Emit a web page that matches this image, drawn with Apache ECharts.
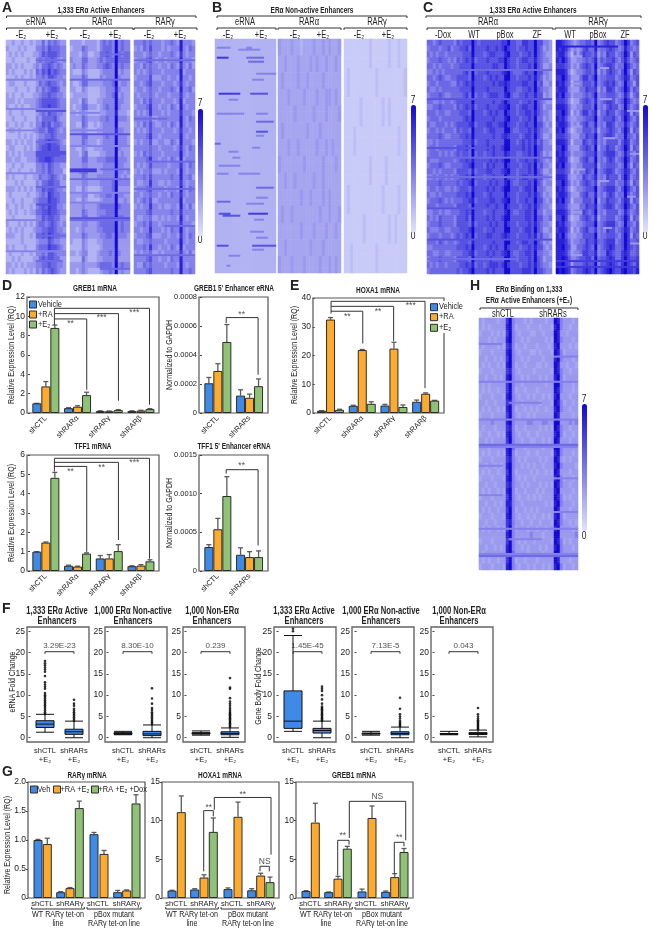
<!DOCTYPE html>
<html><head><meta charset="utf-8">
<style>html,body{margin:0;padding:0;background:#fff}#c{width:652px;height:930px}</style>
<script src="https://cdn.jsdelivr.net/npm/echarts@6/dist/echarts.min.js"></script></head>
<body><div id="c"></div>
<script>
// ---------- heatmap values: one digit per cell, 0 (pale) .. 9 (darkest), x=2.5, y=1.5
const A_eRNA=[
"22322322323353545433","32223232224454655544","23232322233465666544","22322223224545565434","33232322234355654543",
"32322232325465756544","22232322324454665443","23322232223545655434","22232223224354566533","32322322233455655443",
"33323233334566666544","32232322334566766544","23222322223454655443","22322232224355556433","32232322324465645543",
"23323222234554665434","22223232323445565444","33232323324556766543","23322232324566766644","32323233335677776655",
"33233223335667765555","22322322224454654433","23223222324454654442","32322232233544565434","22232322224355665533",
"33323232324465665443","23222223223454765544","22322322234555766544","32232322324565766443","23232232335566766544",
"22322222224465665533","32223232324554565434","23232322234455665443","33322322325565765544","22222322223444654433",
"32322232224555766543","23222322324454665444","22323222233565665533","33232323334455655443","32322232324354565433"];
const A_RARa=[
"33332333324545494544","23335433324555494544","33324422335565495455","43335533345455595555","34335433344565494544",
"32224322223444493433","33335422224344494333","32235533333444593443","33224322223344484333","23333322223344593433",
"33325422233444494433","32335533323454494333","33234322223344483332","33335433334454494443","33225422323444493333",
"33334322233444484433","33335533333454494443","33335433323444494443","33224322333444494333","33324522223344493433",
"33335533344455594443","33334433333444494433","33345533333444494434","33335433344444494343","33334433334444594444",
"33224322223444593333","33334422334455494433","33224322223444493343","33334333345555595444","33335433344455594444",
"33335533345555595544","33334433345555594544","33234333344555594544","33335433334455494443","32224322233444493333",
"22224322223444493333","33234422234445494333","22225322233444493333","33334333345555494544","33234322223445493433"];
const A_RARg=[
"44454544434454384443","34354644434344484354","44434544344454374344","34445643443444484443","44354544344354374353",
"43434544434444483444","34444633344344384434","44345644434443474344","34434544344454384453","43444543444344474344",
"44354644434443483444","34445744344354384344","43434744434344474443","44444533444444484354","34354643344354384344",
"43434644434443474434","44445744344444484344","34344633443354384443","44444544344443474354","34354544434444484344",
"44445744344354383444","43434644444344474354","34344533343444384344","44454644444454484453","43344744334344474344",
"34445644443444384354","44344544344354474344","43454633444444483444","34344744343344384353","44445644444454474444",
"43344533434344384344","34454644344444474443","44344744434354484344","34445633344344374354","43344544443444484344",
"44454744344354383444","34344533434444474353","44445644344354484444","43354544443444384344","44445644444454484454"];
const B_eRNA=Array(39).fill("2222222222222222222222222222222");
const B_RARa=[
"3xxx3xx2xxx3xx3x3xx3","xx3xxx3xxx3x3xx3xx3x","x3xxxx3xx3xxxx3xxxxx","xxx3xxxx3xxx3xx33x3x","xxxxx3xxxxx3xxx3xxx3",
"x3xxxxxxx3xxx3xxxxxx","xxx3xx3xxxxx3xx3x3xx","3xxxxxxx3xxxxx3xxx3x","xx3xx3xxxxx3xx3xxxxx","xxxxxxx3xx3xxx3x3xxx",
"x3xx3xxxxxxxx3xx3xx3","xxxxxxx3xxx3xxx3xx3x","xx3xxxxxxx3xxx3xxxxx","3xxx3xxx3xxxx3xx3x3x"];
const B_RARg=[
"11111111y11111y11y11","1y11111111y11111111y","11111y111111y1y11111","111y1111111111111y11",
"11111111y1111y111111","1y1111111111y1111y11","111111y1111111y1y111","11y1111111y111111111"];
const C_RARa=[
"554565555465666965666666677966557766966443","455545564556675966667667679766566766965343","545455455555666966656776668966656676965433",
"455565545465676856667666779766567766865443","554545554556666966666677669766566676965334","445454555555675956667666678965556766966443",
"554565445566665966656767669966566676865343","455455554465676866666676778766667766956334","544545555556666966667666669766556676965443",
"455565445555675956656777668965566766866343","554454554566666966666676679766656676965433","445565555465676856667666778966567766965344",
"555455445556665966656767669766566776865443","455545555555676966666676668966656676955343","544555454566667856667766779766566766966434",
"455454555465665966656776669965566676865443","555565445556676966666676678766656776965334","445455555555666856667666669966567676856443",
"455455555466675966667676679966667676966444","455545454565665956656676668766556676965343",
"544455555456676866666767679966566766865434","455565445555667966657676669766656676956443","554545555466665856667766678966566676965334",
"445455454556676966656676669766567766866443","555565555565667956666767668965566676965344","455455445456665866667676679966656776955433",
"544545555566676966656766669766566676865343","455565454555667856666776678966566766966434","555455555466665966667667669766656676865443",
"445545445556676966656676668965566776955344","545465555466675966667676679966666776966445","455565555466665856666767669766566676865443",
"544455445556667966656676669966656776965334","455545554565676956667766678766566676856443","555465455456665866666676669966567766965343",
"445555555566676966656767669766656676866434","554455445555667856667676678965566776955443","455565555466665966666766669966566676965344",
"545455455556676856656777679766656676865443","455555555565667966667676669966667776966544"];
const C_RARg=[
"8876543455665945676645697456","8787534346755845567654586545","7886425357665735476645697365","8797533445656846566754686456",
"7776534356765945677645597545","8887423445665835467654696365","7797533357756945566645687456","8786524446665845676754596536",
"7887433355766735477645697465","8796534445656945566654586356","7776423356765845677645697545","8887533446665945467664596456",
"7797524357756835576645687365","8786433445666945666754697546","7887534356755845477645586456","8796423446665735567654697365",
"7776533355766945677645596546","8887524447656845466664687456","7797433356765935576645697365","8786534445666845677754586546",
"7887423356755945467645697456","8796533446666835566654596365","7776524355765945677645687546","8887433447656845476664697456",
"7797534356765735566645586365","8786423445666945677754697546","7887533356755845467645596456","8796524446665935576654687365",
"7776433355766845677645697546","8887534447656945466664586456","7797423356765835566645697365","8786533445666945677754596546",
"7887524356755745476645687456","8796433446666945566654697365","8887534455766855677745697556","8897633556765945678755697656",
"8887534457766845587655787556","8898644566775956678755797667","8897635556766946678765797657","9898745667876956789766897768"];
const H_Bind=[
"3x3333x33794333x3x3333x3398433323","3x3x33333894x33323332333x89433x33","x33323x3x79432333x233x33398332333","333x3x333894332323333323x98433323",
"323333232784233233323332389333232","233323333894323332232333298423333","332332323794332323333233389433323","323233232894233233322323398332332",
"233323333784323333233333298433233","332332323894332323332323389423333","323233333794332333333323399433323","323233233794233233323333398433323",
"233323332894323323233232389333233","332332333784332333332333298423323","323233232894233232323323389433233","233323333794323323233333398333323",
"333343333894333344333443399333434","323332333784233233332323298433233","233233232894323323323333389423323","332323333794332332233232398333233",
"333233333895333233333233399433333","323233232894233323323333289433323","233323333784323233332323398323233","332332323894332323233233389433332",
"323233233794233332323323298333233","233323332894323233233333389423323","332332333784332323332323298433233","323233232894233233323233389333323",
"233323333794323323232333398423233","332332323884332333333323289433323","323233233794233232323333398333233","233323332894323323233232389423333",
"332332333784332332332333298433232","323233232794233323323323389333323","333333333894333334333233399333334","233323333794323233233333298423233",
"332332323894332323332323389433323","323333333895333323333233399433333","323233233794233233323333398333233","233323332894323323233232389423323"].map(r=>r.replace(/2/g,'x'));
// thin streaks in a panel: [fine row, first column, last column, digit]
const A_eRNA_s=[[20,0,19,4],[35,0,19,4],[36,10,19,6],[10,10,19,5],[46,0,9,4],[52,10,16,5],[57,10,19,6],[58,10,19,6],[59,10,17,6],[68,0,9,4],[75,10,19,5],[84,10,16,6],[92,0,9,4],[100,10,19,5],[108,0,19,4],[113,10,18,5]];
const A_RARa_s=[[48,0,19,6],[66,0,8,7],[67,0,8,7],[66,10,19,5],[71,0,19,5],[78,0,19,4],[91,0,19,6],[92,0,19,5],[20,0,19,5],[37,0,9,4],[46,0,12,4],[54,0,19,4],[83,0,14,4],[7,10,19,5],[117,10,19,5]];
const A_RARg_s=[[10,0,19,5],[40,0,10,5],[62,5,19,5],[76,0,19,5],[95,10,19,5],[110,0,19,5]];
const B_eRNA_s=[[4,1,7,4],[4,16,18,4],[5,12,22,4],[9,1,6,7],[9,16,24,5],[11,17,24,5],[17,21,30,4],[20,19,24,4],[27,2,12,7],[27,18,26,6],[30,7,11,4],[37,1,14,4],[37,21,26,4],[41,21,29,5],[46,21,26,6],[48,21,24,4],[52,0,2,5],[54,19,22,4],[56,7,11,4],[59,9,12,4],[63,2,12,4],[67,1,6,4],[67,12,22,4],[74,21,29,5],[79,21,26,4],[81,1,7,5],[82,16,24,4],[87,2,7,6],[87,17,26,7],[88,4,12,6],[90,20,24,4],[96,18,24,4],[99,21,26,4],[103,1,6,6],[103,19,30,6],[105,19,24,4],[108,7,12,4],[113,6,7,4]];
const C_RARa_s=[[30,0,41,6],[55,0,20,6],[70,0,41,5],[86,0,20,6],[102,0,41,6],[60,0,41,5],[15,10,41,5],[112,0,30,5]];
const C_RARg_s=[[3,0,20,8],[8,6,8,3],[14,15,17,3],[22,5,7,3],[30,15,18,3],[36,24,27,3],[44,6,8,3],[50,16,19,3],[58,25,27,3],[66,6,9,3],[72,15,17,3],[80,24,26,3],[88,6,8,3],[96,16,18,3],[104,25,27,3],[110,6,8,3],[113,0,27,7],[116,0,27,7]];
const H_Bind_s=[[30,0,32,4],[48,0,32,4],[60,0,32,5],[61,0,32,4],[100,0,32,4],[112,0,32,4],[113,0,32,5],[12,0,7,4],[18,25,32,4],[40,10,20,4],[70,0,7,4],[76,25,32,4],[84,0,7,4],[92,25,32,4],[105,10,20,4]];

// ---------- bar values (Vehicle / +RA / +E2) and errors
const D_cats=["shCTL","shRARα","shRARγ","shRARβ"];
const D_eCats=["shCTL","shRARs"];
const D1_veh=[1,.5,.2,.2],D1_ra=[2.75,.65,.18,.25],D1_e2=[8.8,1.85,.3,.4];
const D1_vehE=[0,.05,.03,.03],D1_raE=[.5,.1,.03,.03],D1_e2E=[.3,.3,.05,.05];
const D2_veh=[.000205,.00012],D2_ra=[.00029,.000105],D2_e2=[.00049,.000185];
const D2_vehE=[.00004,.00004],D2_raE=[.00005,.000025],D2_e2E=[.00012,.00005];
const D3_veh=[1,.27,.65,.25],D3_ra=[1.47,.23,.65,.28],D3_e2=[4.82,.9,1.03,.5];
const D3_vehE=[0,.03,.15,.02],D3_raE=[.03,.02,.2,.05],D3_e2E=[.28,.04,.33,.08];
const D4_veh=[.00031,.00021],D4_ra=[.00054,.00018],D4_e2=[.00097,.00018];
const D4_vehE=[.00003,.00009],D4_raE=[.00014,.00007],D4_e2E=[.00025,.00008];
const E_veh=[.8,2.5,2.6,3.9],E_ra=[32.5,21.9,22.4,6.7],E_e2=[1.1,3.2,2.1,4.3];
const E_vehE=[0,.2,.4,.6],E_raE=[.7,.2,2.2,.3],E_e2E=[.2,.7,.7,.1];
// brackets and significance labels, in group units / axis values
const D1_br=[[[.77,9.1],[.77,10.83],[3.77,10.83],[3.77,.86]],[[.77,10.28],[2.79,10.28],[2.79,1.27]],[[.77,9.73],[1.79,9.73],[1.79,2.4]]];
const D1_st=[[1.28,9.2,"**"],[2.26,9.87,"***"],[3.29,10.4,"***"]];
const D2_br=[[[.763,.00062],[.763,.000658],[1.77,.000658],[1.77,.000264]]];
const D2_st=[[1.25,.00068,"**"]];
const D3_br=[[[.77,5.15],[.77,5.83],[3.77,5.83],[3.77,.64]],[[.77,5.62],[2.79,5.62],[2.79,1.6]],[[.77,5.41],[1.79,5.41],[1.79,.99]]];
const D3_st=[[1.28,5.15,"**"],[2.26,5.37,"**"],[3.29,5.62,"***"]];
const D4_br=[[[.763,.00126],[.763,.00131],[1.77,.00131],[1.77,.00033]]];
const D4_st=[[1.25,.00136,"**"]];
const E_br=[[[.516,34.6],[.516,38.85],[3.48,38.85],[3.48,8.65]],[[.516,37.1],[2.49,37.1],[2.49,25.1]],[[.516,35.4],[1.516,35.4],[1.516,24.2]]];
const E_st=[[1.03,33.5,"**"],[2,35.4,"**"],[3.03,37.2,"***"]];

// ---------- box plots: min, Q1, median, Q3, max for shCTL and shRARs, then outliers
const F_cats=["shCTL\n+E₂","shRARs\n+E₂"];
const F1_box=[[1.3,2.4,3.2,4,5.5],[0,.8,1.4,2,3.9]];
const F1_outA=[5.6,6,6.4,6.8,7.2,7.6,8,8.4,8.8,9.2,9.6,10,10.5,11.5,12,12.5,13,14.5,15.5,16,16.5,17,17.5,18];
const F1_outB=[4,4.4,4.8,5.2,5.6,6,6.4,6.8,7.5,8,8.9];
const F2_box=[[.7,.8,1,1.2,1.5],[0,.5,.9,1.5,3]];
const F2_outA=[],F2_outB=[3.2,3.6,4,4.4,4.8,5.2,5.6,6,6.5,7,8,9.2,11.6];
const F3_box=[[.6,.85,1,1.2,1.6],[.1,.7,1,1.4,2.3]];
const F3_outA=[],F3_outB=[2.5,2.8,3.1,3.4,3.7,4,4.3,4.6,4.9,5.2,5.5,5.8,6.1,6.5,7,7.5,8,8.5,9.3,11.5,11.8,14];
const F4_box=[[1.5,2.2,3.9,11,24],[0,1.1,1.7,2.2,3.9]];
const F4_outA=[25,25.6],F4_outB=[4,4.3,4.6,4.9,5.2,5.5,5.8,6.1,6.4,6.7,7,7.3,8,9,10,11,11.5,12];
const F5_box=[[.6,.85,1,1.1,1.5],[0,.7,1,1.4,2.5]];
const F5_outA=[],F5_outB=[2.7,3,3.3,3.6,4,4.5,5,5.5,6.8,9.4];
const F6_box=[[.7,.8,.9,1,1.5],[.2,.75,1,1.2,1.8]];
const F6_outA=[],F6_outB=[2,2.3,2.6,2.9,3.2,3.5,3.8,4.1,4.5,5,5.5,7];
const F_p=["3.29E-23","8.30E-10","0.239","1.45E-45","7.13E-5","0.043"];
const F_titles=["1,333 ERα Active\nEnhancers","1,000 ERα Non-active\nEnhancers","1,000 Non-ERα\nEnhancers","1,333 ERα Active\nEnhancers","1,000 ERα Non-active\nEnhancers","1,000 Non-ERα\nEnhancers"];

// ---------- panel G
const G_labels=["shCTL","shRARγ","shCTL","shRARγ"];
const G_labelPos=[14.3,42,70,98.5];
const G_vehPos=[10,32.7,66,89.7],G_raPos=[19.3,42,76,98.7],G_doxPos=[51.3,108];
const G1_veh=[1,.1,1.1,.1],G1_ra=[.93,.17,.76,.13],G1_dox=[1.55,1.63];
const G1_vehE=[.01,.01,.03,.03],G1_raE=[.1,.01,.06,.01],G1_doxE=[.12,.15];
const G2_veh=[.95,1.1,1.15,1],G2_ra=[11.1,2.65,10.5,2.9],G2_dox=[8.55,2.05];
const G2_vehE=[.05,.1,.15,.2],G2_raE=[2.1,.35,1.9,.3],G2_doxE=[1.8,.65];
const G3_veh=[.9,.75,.85,.8],G3_ra=[9.75,2.5,10.35,2.7],G3_dox=[6.38,5.95];
const G3_vehE=[.05,.03,.3,.1],G3_raE=[2.5,.3,1.55,.45],G3_doxE=[.3,.45];
const G2_br=[[[41.7,3.45],[41.7,11.3],[51.3,11.3],[51.3,10.56]],[[52.3,11.4],[52.3,13],[109,13],[109,5.6]],[[98,3.45],[98,4.1],[107.3,4.1],[107.3,3.45]]];
const G2_st=[[46.7,11.7,"**"],[80.7,13.35,"**"],[102.7,4.75,"NS"]];
const G3_br=[[[53.3,7.76],[53.3,12.5],[109.7,12.5],[109.7,7.46]],[[41.7,2.93],[41.7,7.46],[53,7.46],[53,6.9]],[[98.3,3.2],[98.3,7.2],[108,7.2],[108,6.68]]];
const G3_st=[[46.7,8,"**"],[81.3,13.15,"NS"],[103.3,7.76,"**"]];

// ---------- build
const SANS='"Liberation Sans",sans-serif';
const INK='#222',FRAME='#555';
const BLUE='#3f8ae6',ORANGE='#fdab2f',GREEN='#8fc274';
const grid=[],xAxis=[],yAxis=[],series=[],gfx=[],visualMap=[],legend=[];
const halves={x:2.5,y:1.5};
function cell(ch){return (ch in halves?halves[ch]:+ch)*7/9;}
function addGrid(l,t,r,b){grid.push({left:l,top:t,width:r-l,height:b-t,containLabel:false});return grid.length-1;}
function heat(rows,streaks,l,t,r,b,group){
  const g=addGrid(l,t,r,b),fine=[],data=[];
  rows.forEach(row=>{for(let k=0;k<3;k++)fine.push(Array.from(row,cell));});
  streaks.forEach(s=>{for(let i=s[1];i<=s[2];i++)fine[s[0]][i]=s[3]*7/9;});
  fine.forEach((row,j)=>row.forEach((v,i)=>data.push([i,j,v])));
  xAxis.push({gridIndex:g,type:'category',show:false,data:fine[0].map((_,i)=>i)});
  yAxis.push({gridIndex:g,type:'category',show:false,inverse:true,data:fine.map((_,j)=>j)});
  group.push(series.length);
  series.push({type:'heatmap',xAxisIndex:xAxis.length-1,yAxisIndex:yAxis.length-1,data,animation:false,silent:true,progressive:0});
}
function colorbar(ids,l,t){visualMap.push({type:'continuous',min:0,max:7,seriesIndex:ids,left:l,top:t,itemWidth:5,itemHeight:127,padding:0,calculable:false,
  inRange:{color:['#dfe2fb','#1208d4']},textStyle:{fontSize:0},showLabel:false});}
function T(x,y,text,o={}){gfx.push({type:'text',x,y,rotation:o.rot||0,scaleX:o.sx||.75,silent:true,style:{text,x:0,y:0,align:o.align||'center',verticalAlign:'middle',fill:o.fill||INK,
  font:`${o.weight||'normal'} ${o.size||10}px ${SANS}`}});}
function L(pts,o={}){gfx.push({type:'polyline',silent:true,shape:{points:pts},style:{stroke:o.c||'#333',lineWidth:o.w||1,fill:null}});}
function BR(a,b,y,d=2){L([[a,y+d],[a,y],[b,y],[b,y+d]]);}
function frame(l,t,r,b,c=FRAME,w=1.2){gfx.push({type:'rect',silent:true,shape:{x:l,y:t,width:r-l,height:b-t},style:{fill:null,stroke:c,lineWidth:w}});}
function YN(x,y,text){T(x,y,text,{rot:Math.PI/2,size:9,sx:.78});}
function renderErr(p,api){
  const a=api.coord([api.value(0),api.value(1)]),b=api.coord([api.value(0),api.value(2)]);
  const s={stroke:'#5a5a5a',lineWidth:1.3};
  return {type:'group',children:[{type:'line',shape:{x1:a[0],y1:a[1],x2:b[0],y2:b[1]},style:s},
    {type:'line',shape:{x1:b[0]-2.5,y1:b[1],x2:b[0]+2.5,y2:b[1]},style:s}]};
}
function errs(xi,yi,pos,v,e){series.push({type:'custom',xAxisIndex:xi,yAxisIndex:yi,renderItem:renderErr,silent:true,animation:false,z:1,clip:false,
  data:v.map((d,i)=>[pos[i],d,d+e[i]]),encode:{x:0,y:[1,2]}});}
function brackets(xi,yi,list,color='#333'){list.forEach(d=>series.push({type:'line',xAxisIndex:xi,yAxisIndex:yi,data:d,symbol:'none',silent:true,animation:false,z:4,
  lineStyle:{color,width:1}}));}
function notes(xi,yi,list,size=8.5){series.push({type:'scatter',xAxisIndex:xi,yAxisIndex:yi,data:list,symbolSize:1,itemStyle:{color:'transparent'},silent:true,animation:false,z:5,
  label:{show:true,position:'inside',formatter:p=>p.value[2],color:INK,fontSize:size,fontFamily:SANS}});}
function yAx(g,max,interval,o){return {gridIndex:g,type:'value',min:0,max,interval,offset:o.offset||0,position:'left',splitLine:{show:false},axisLine:{show:false},
  axisTick:{show:true,length:2,lineStyle:{color:'#444'}},
  axisLabel:{color:INK,fontSize:o.fs||8.5,fontFamily:SANS,margin:2,formatter:o.fmt||(v=>v)}};}
const SNAMES=['Vehicle','+RA','+E₂'],SCOL=[BLUE,ORANGE,GREEN];
function barPanel(o){
  frame(...o.frame);
  const [fl,ft,fr,fb]=o.frame,g=addGrid(o.left,ft,o.left+31.7*o.cats.length,fb);
  xAxis.push({gridIndex:g,type:'category',data:o.cats,axisLine:{show:false},axisTick:{show:false},
    axisLabel:{rotate:45,interval:0,margin:4,color:INK,fontSize:7.5,fontFamily:SANS}});
  const cx=xAxis.length-1;
  xAxis.push({gridIndex:g,type:'value',min:0,max:o.cats.length,show:false});
  const hx=xAxis.length-1;
  yAxis.push(yAx(g,o.max,o.int,{offset:o.left-fl,fmt:o.fmt,fs:o.fs}));
  const yi=yAxis.length-1;
  o.vals.forEach((v,k)=>{
    series.push({type:'bar',name:SNAMES[k],xAxisIndex:cx,yAxisIndex:yi,data:v,barWidth:9,barGap:'0%',animation:false,silent:true,z:3,
      itemStyle:{color:SCOL[k],borderColor:'#2c2c2c',borderWidth:1}});
    errs(hx,yi,v.map((_,i)=>i+.5+(k-1)*9/31.7),v,o.errs[k]);
  });
  brackets(hx,yi,o.br);notes(hx,yi,o.st);
}
function boxPanel(fr,left,box,outA,outB,p){
  frame(...fr,'#666',1.4);
  const g=addGrid(left,fr[1],left+58,fr[3]);
  xAxis.push({gridIndex:g,type:'category',data:F_cats,axisLine:{show:false},axisTick:{show:false},
    axisLabel:{interval:0,margin:4,color:INK,fontSize:7.5,lineHeight:9,fontFamily:SANS}});
  const cx=xAxis.length-1;
  xAxis.push({gridIndex:g,type:'value',min:0,max:2,show:false});
  const hx=xAxis.length-1;
  const ticks=[0,5,10,15,20,25];
  yAxis.push({gridIndex:g,type:'value',min:-1,max:26,offset:left-fr[0],splitLine:{show:false},axisLine:{show:false},
    axisTick:{show:true,length:2,customValues:ticks,lineStyle:{color:'#444'}},
    axisLabel:{customValues:ticks,color:INK,fontSize:8.5,fontFamily:SANS,margin:2}});
  const yi=yAxis.length-1;
  series.push({type:'boxplot',xAxisIndex:cx,yAxisIndex:yi,data:box,boxWidth:[18,18],silent:true,animation:false,z:3,
    itemStyle:{color:BLUE,borderColor:'#111',borderWidth:1}});
  const out=[...outA.map(v=>[0,v]),...outB.map(v=>[1,v])];
  series.push({type:'scatter',xAxisIndex:cx,yAxisIndex:yi,data:out,symbolSize:2.6,silent:true,animation:false,z:3,itemStyle:{color:'#000'}});
  brackets(hx,yi,[[[.5,19.7],[.5,20.2],[1.5,20.2],[1.5,19.7]]]);
  notes(hx,yi,[[1,21.6,p]],8);
}
const GN=['Veh','+RA +E₂','+RA +E₂ +Dox'];
function gPanel(l,max,int,vals,es,br,st,o={}){
  const t=782,b=898,r=l+117;
  frame(l,t,r,b);
  const g=addGrid(l,t,r,b);
  xAxis.push({gridIndex:g,type:'value',min:0,max:117,splitLine:{show:false},axisLine:{show:false},axisTick:{show:false},
    axisLabel:{customValues:G_labelPos,showMinLabel:true,showMaxLabel:true,margin:2,color:INK,fontSize:7.5,fontFamily:SANS,formatter:v=>G_labels[G_labelPos.indexOf(v)]||''}});
  const xi=xAxis.length-1;
  yAxis.push(yAx(g,max,int,{fmt:o.fmt}));
  const yi=yAxis.length-1;
  [G_vehPos,G_raPos,G_doxPos].forEach((pos,k)=>{
    series.push({type:'bar',name:GN[k],xAxisIndex:xi,yAxisIndex:yi,data:vals[k].map((v,i)=>[pos[i],v]),barWidth:9,barGap:'-100%',animation:false,silent:true,z:3,
      itemStyle:{color:SCOL[k],borderColor:'#2c2c2c',borderWidth:1}});
    errs(xi,yi,pos,vals[k],es[k]);
  });
  brackets(xi,yi,br);notes(xi,yi,st);
  BR(l+3.7,l+56.3,909,-2);BR(l+59,l+113,909,-2);
  T(l+30,914.5,'WT RARγ tet-on',{size:9.5});T(l+30,923.5,'line',{size:9.5});
  T(l+86,914.5,'pBox mutant',{size:9.5});T(l+86,923.5,'RARγ tet-on line',{size:9.5});
}
const LEG={orient:'vertical',itemWidth:7,itemHeight:7,padding:0,icon:'rect',formatter:()=>'',itemStyle:{borderColor:'#2c2c2c',borderWidth:1},textStyle:{fontSize:1},selectedMode:false};
function key(name,lx,cy,text,tx){legend.push({...LEG,data:[name],left:lx,top:cy-3.5});T(tx,cy,text,{align:'left',size:9.5,sx:.78});}

// ---- heatmaps
const gA=[],gB=[],gC=[],gH=[];
heat(A_eRNA,A_eRNA_s,6,40,66,274,gA);heat(A_RARa,A_RARa_s,70,40,130,274,gA);heat(A_RARg,A_RARg_s,134,40,195,274,gA);
heat(B_eRNA,B_eRNA_s,215,39,276,273,gB);heat(B_RARa,[],278,39,341,273,gB);heat(B_RARg,[],344,39,407,273,gB);
heat(C_RARa,C_RARa_s,427,40,552,274,gC);heat(C_RARg,C_RARg_s,556,40,639,274,gC);
heat(H_Bind,H_Bind_s,479,318,578,570,gH);
colorbar(gA,198,109);colorbar(gB,411,105);colorbar(gC,643,105);colorbar(gH,582,404);
[[200,103,240],[413,100,236],[645,100,236],[584,399,536]].forEach(d=>{T(d[0],d[1],'7',{size:10,sx:.85});T(d[0],d[2],'0',{size:10,sx:.85});});

// ---- heat headers
const LET={weight:'bold',size:14,align:'left',sx:1};
T(2,8,'A',LET);T(212,8,'B',LET);T(423,8,'C',LET);T(2,286,'D',LET);T(290,286,'E',LET);T(470,286,'H',LET);T(2,609,'F',LET);T(2,772,'G',LET);
const HB={weight:'bold',size:9,sx:.72};
T(101,11,'1,333 ERα Active Enhancers',HB);BR(6.5,196,16);
T(312,11,'ERα Non-active Enhancers',HB);BR(217,407,16);
T(533,11,'1,333 ERα Active Enhancers',HB);BR(426,641,16);
[[6.5,66,36,'eRNA'],[70,133,102,'RARα'],[134,197,165,'RARγ'],[217,276,245,'eRNA'],[278,341,309,'RARα'],[344,407,377,'RARγ'],[427,553,488,'RARα'],[555,641,598,'RARγ']]
  .forEach(d=>{BR(d[0],d[1],28);T(d[2],22,d[3],{size:10});});
[21,52,85,115,149,180,228,261,295,323,359,388].forEach((x,i)=>T(x,35,i%2?'+E₂':'-E₂',{size:10}));
[[443,'-Dox'],[474,'WT'],[505,'pBox'],[537,'ZF'],[570,'WT'],[598,'pBox'],[625,'ZF']].forEach(d=>T(d[0],35,d[1],{size:10}));
T(529,290,'ERα Binding on 1,333',HB);T(529,301,'ERα Active Enhancers (+E₂)',HB);BR(480,578,308);
T(503,314,'shCTL',{size:10});T(553,314,'shRARs',{size:10});

// ---- D, E
T(95,289,'GREB1 mRNA',HB);T(234,289,"GREB1 5' Enhancer eRNA",HB);T(378,291,'HOXA1 mRNA',HB);
T(93,447,'TFF1 mRNA',HB);T(234,447,"TFF1 5' Enhancer eRNA",HB);
const f4=v=>v===0?'0':v.toFixed(4);
barPanel({frame:[27,297,159,413],left:30,cats:D_cats,max:12,int:2,vals:[D1_veh,D1_ra,D1_e2],errs:[D1_vehE,D1_raE,D1_e2E],br:D1_br,st:D1_st});
barPanel({frame:[199,297,268,413],left:202,cats:D_eCats,max:.0008,int:.0002,fmt:f4,fs:7.5,vals:[D2_veh,D2_ra,D2_e2],errs:[D2_vehE,D2_raE,D2_e2E],br:D2_br,st:D2_st});
barPanel({frame:[27,455,159,571],left:30,cats:D_cats,max:6,int:1,vals:[D3_veh,D3_ra,D3_e2],errs:[D3_vehE,D3_raE,D3_e2E],br:D3_br,st:D3_st});
barPanel({frame:[199,455,268,571],left:202,cats:D_eCats,max:.0015,int:.0005,fmt:f4,fs:7.5,vals:[D4_veh,D4_ra,D4_e2],errs:[D4_vehE,D4_raE,D4_e2E],br:D4_br,st:D4_st});
barPanel({frame:[313,298,444,413],left:314.7,cats:D_cats,max:40,int:10,vals:[E_veh,E_ra,E_e2],errs:[E_vehE,E_raE,E_e2E],br:E_br,st:E_st});
YN(12,355,'Relative Expression Level (RQ)');YN(170,355,'Normalized to GAPDH');YN(295,355,'Relative Expression Level (RQ)');
YN(12,513,'Relative Expression Level (RQ)');YN(170,513,'Normalized to GAPDH');
// the key of panel E breaks the panel's right edge
gfx.push({type:'rect',silent:true,shape:{x:430,y:301,width:34,height:32},style:{fill:'#fff'}});
SNAMES.forEach((n,i)=>key(n,29,[304,314,324][i],n,38));
SNAMES.forEach((n,i)=>key(n,430,[306.7,316.7,327.3][i],n,439));

// ---- F
const FFR=[[27,627,89,742,30.5],[105,627,167,742,108.5],[183,627,245,742,186.5],[274,627,336,742,278.5],[352,627,414,742,356.5],[431,627,493,742,434.5]];
const FD=[[F1_box,F1_outA,F1_outB],[F2_box,F2_outA,F2_outB],[F3_box,F3_outA,F3_outB],[F4_box,F4_outA,F4_outB],[F5_box,F5_outA,F5_outB],[F6_box,F6_outA,F6_outB]];
const FTX=[57,133,212,304,381,459];
FFR.forEach((f,i)=>{
  boxPanel(f.slice(0,4),f[4],FD[i][0],FD[i][1],FD[i][2],F_p[i]);
  T(FTX[i],611,F_titles[i].split('\n')[0],{weight:'bold',size:10,sx:.76});
  T(FTX[i],621,F_titles[i].split('\n')[1],{weight:'bold',size:10,sx:.76});
});
YN(13,682,'eRNA Fold Change');YN(259,686,'Gene Body Fold Change');

// ---- G
T(87,776,'RARγ mRNA',HB);T(220,776,'HOXA1 mRNA',HB);T(354,776,'GREB1 mRNA',HB);
const f1=v=>v===0?'0':v.toFixed(1);
gPanel(28,2,.5,[G1_veh,G1_ra,G1_dox],[G1_vehE,G1_raE,G1_doxE],[],[],{fmt:f1});
gPanel(162,15,5,[G2_veh,G2_ra,G2_dox],[G2_vehE,G2_raE,G2_doxE],G2_br,G2_st);
gPanel(296,15,5,[G3_veh,G3_ra,G3_dox],[G3_vehE,G3_raE,G3_doxE],G3_br,G3_st);
YN(8,845,'Relative Expression Level (RQ)');
key(GN[0],30,789,GN[0],37.5);key(GN[1],53,789,GN[1],60.5);key(GN[2],91,789,GN[2],98.5);

const chart=echarts.init(document.getElementById('c'),null,{renderer:'canvas',width:652,height:930});
chart.setOption({animation:false,backgroundColor:'#fff',tooltip:{show:false},grid,xAxis,yAxis,series,visualMap,legend,graphic:{elements:gfx}});
</script></body></html>
